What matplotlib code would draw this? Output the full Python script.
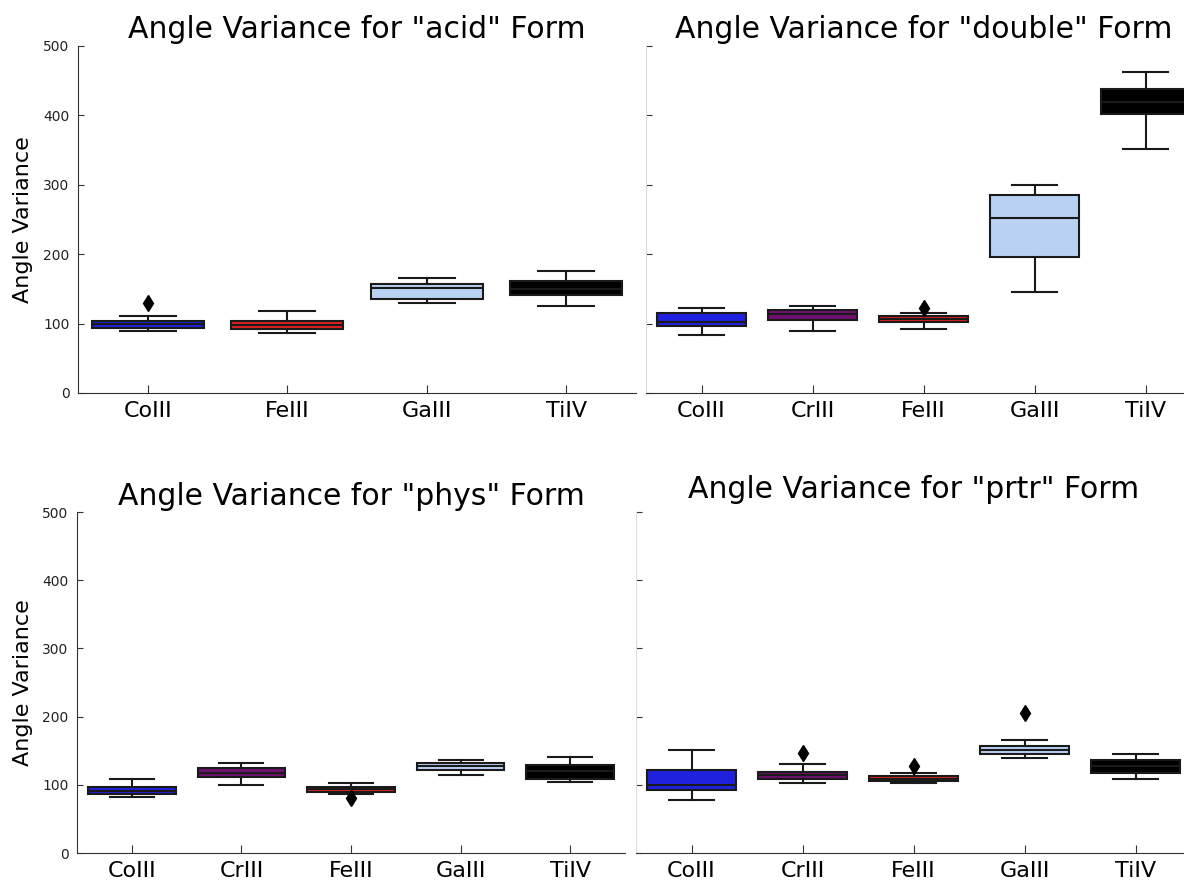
import matplotlib
matplotlib.use("Agg")
import matplotlib.pyplot as plt

# --- data (box stats per metal, per form) ---
forms = ["acid", "double", "phys", "prtr"]

labels_acid = ["CoIII", "FeIII", "GaIII", "TiIV"]
labels_all = ["CoIII", "CrIII", "FeIII", "GaIII", "TiIV"]

# (whislo, q1, med, q3, whishi)
acid_stats = [(89, 94, 99, 104, 111), (87, 92, 98, 104, 118),
              (130, 135, 151, 157, 166), (126, 141, 150, 161, 176)]
acid_fliers = [[129], [], [], []]

double_stats = [(84, 96, 102, 115, 122), (90, 105, 114, 120, 126),
                (92, 102, 106, 111, 115), (146, 196, 252, 286, 300),
                (351, 402, 420, 438, 463)]
double_fliers = [[], [], [122], [], []]

phys_stats = [(82, 86, 91, 97, 109), (99, 111, 118, 124, 132),
              (86, 90, 94, 97, 102), (114, 122, 127, 132, 137),
              (104, 109, 120, 129, 141)]
phys_fliers = [[], [], [80], [], []]

prtr_stats = [(78, 93, 99, 122, 151), (103, 109, 114, 119, 131),
              (103, 106, 109, 113, 118), (140, 145, 151, 157, 166),
              (108, 118, 127, 136, 145)]
prtr_fliers = [[], [146], [127], [206], []]

metal_colors = {"CoIII": "#2020df", "CrIII": "#701070", "FeIII": "#df2020",
                "GaIII": "#b9d1f3", "TiIV": "#000000"}

plt.rcParams["font.family"] = "DejaVu Sans"

W, H = 1184, 880
fig = plt.figure(figsize=(W / 100, H / 100), dpi=100)


def axes_px(x0, x1, ytop, ybot):
    return fig.add_axes([x0 / W, (H - ybot) / H, (x1 - x0) / W, (ybot - ytop) / H])


def draw_panel(ax, form, labels, stats, fliers, left, title_pad):
    bxp_stats = []
    for lab, s, f in zip(labels, stats, fliers):
        bxp_stats.append({"label": lab, "whislo": s[0], "q1": s[1], "med": s[2],
                          "q3": s[3], "whishi": s[4], "fliers": f})
    pos = list(range(len(labels)))
    bp = ax.bxp(bxp_stats, positions=pos, widths=0.8, patch_artist=True,
                boxprops=dict(linewidth=1.5, edgecolor="#1a1a1a"),
                medianprops=dict(color="#1a1a1a", linewidth=1.5),
                whiskerprops=dict(color="#1a1a1a", linewidth=1.5),
                capprops=dict(color="#1a1a1a", linewidth=1.5),
                flierprops=dict(marker="d", markerfacecolor="black",
                                markeredgecolor="black", markersize=8))
    for patch, lab in zip(bp["boxes"], labels):
        patch.set_facecolor(metal_colors[lab])

    ax.set_xlim(-0.5, len(labels) - 0.5)
    ax.set_ylim(0, 500)
    ax.set_yticks([0, 100, 200, 300, 400, 500])
    ax.set_xticks(pos)
    ax.set_xticklabels(labels, fontsize=16)
    ax.set_title('Angle Variance for "%s" Form' % form, fontsize=21.5, pad=title_pad)
    ax.spines["top"].set_visible(False)
    ax.spines["right"].set_visible(False)
    ax.spines["bottom"].set_color("#333333")
    ax.tick_params(axis="x", direction="in", length=6, color="#333333", pad=6)
    ax.tick_params(axis="y", direction="in", length=4, color="#333333",
                   labelsize=10, labelcolor="#222222", pad=6)
    if left:
        ax.spines["left"].set_color("#333333")
        ax.set_ylabel("Angle Variance", fontsize=16)
        ax.yaxis.set_label_coords(-0.081, 0.5)
    else:
        ax.spines["left"].set_color("#dddddd")
        ax.tick_params(axis="y", labelleft=False)


ax_tl = axes_px(78, 636, 46, 393)
ax_tr = axes_px(646, 1201, 46, 393)
ax_bl = axes_px(77, 625, 512, 853)
ax_br = axes_px(636, 1191, 512, 853)

draw_panel(ax_tl, "acid", labels_acid, acid_stats, acid_fliers, True, 6)
draw_panel(ax_tr, "double", labels_all, double_stats, double_fliers, False, 6)
draw_panel(ax_bl, "phys", labels_all, phys_stats, phys_fliers, True, 5)
draw_panel(ax_br, "prtr", labels_all, prtr_stats, prtr_fliers, False, 10)

fig.savefig("out.png", dpi=100)
